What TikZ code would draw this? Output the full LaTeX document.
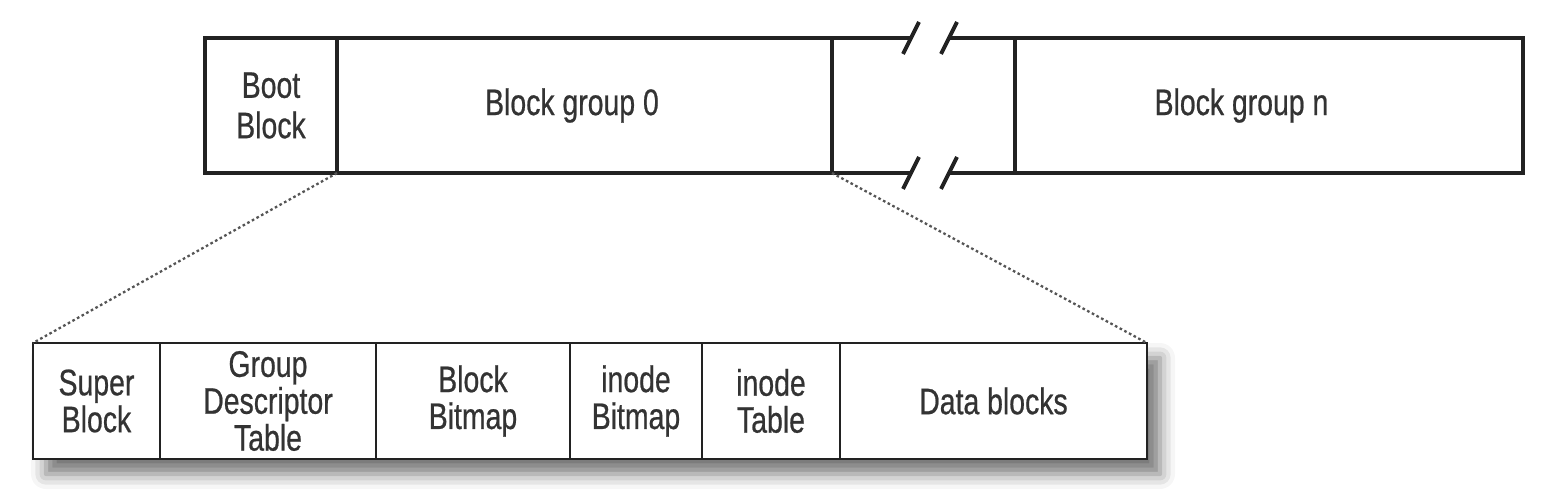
\documentclass[tikz,border=0pt]{standalone}
\usepackage{fontspec}
\setmainfont{Liberation Sans}[FakeStretch=0.77, FakeBold=0.6]
\usepackage{tikz}
\usetikzlibrary{positioning, calc, fit, backgrounds, shadows.blur}
\definecolor{inkgray}{HTML}{222222}
\definecolor{textgray}{HTML}{333333}
\definecolor{dotgray}{HTML}{555555}

\begin{document}
\begin{tikzpicture}[
    cell/.style={rectangle, draw=inkgray, line width=2.2pt, outer sep=0pt, inner sep=0pt, minimum height=2.7cm, align=center, text=textgray, font=\fontsize{21}{23}\selectfont},
    sub/.style={cell, line width=1.6pt, minimum height=2.32cm, font=\fontsize{21}{21}\selectfont},
    zoomline/.style={dotgray, line width=1.3pt, dash pattern=on 1.5pt off 1.5pt},
    brk/.style={inkgray, line width=2.2pt},
    node distance=0cm
]
\useasboundingbox (0,0) rectangle (31.28,-9.96);
\node[cell, minimum width=2.64cm, anchor=north west] (boot) at (4.10,-0.76) {Boot\\Block};
\node[cell, minimum width=9.90cm, right=of boot] (grp0) {Block group 0\hspace*{0.5cm}};
\node[cell, draw=none, minimum width=3.66cm, right=of grp0] (gap) {};
\node[cell, minimum width=10.16cm, right=of gap] (grpn) {Block group n\hspace*{1.1cm}};

\foreach \a/\b in {north west/north east, south west/south east} {
    \draw[brk] (gap.\a) -- ++(1.58,0) ++(-0.16,-0.32) -- ++(0.32,0.64);
    \draw[brk] (gap.\b) -- ++(-1.32,0) ++(-0.16,-0.32) -- ++(0.32,0.64);
}

\node[sub, minimum width=2.54cm, anchor=north west] (super) at (0.66,-6.86) {Super\\Block};
\node[sub, minimum width=4.32cm, right=of super] (gdt) {Group\\Descriptor\\Table};
\node[sub, minimum width=3.88cm, right=of gdt] (bbm) {Block\\Bitmap};
\node[sub, minimum width=2.64cm, right=of bbm] (ibm) {inode\\Bitmap};
\node[sub, minimum width=2.76cm, right=of ibm] (itab) {inode\\Table};
\node[sub, minimum width=6.14cm, right=of itab] (data) {Data blocks};

\begin{scope}[on background layer]
\node[fit=(super)(data), inner sep=0pt, fill=white, blur shadow={shadow xshift=0.26cm, shadow yshift=-0.3cm, shadow blur radius=0.3cm, shadow opacity=55}] (shade) {};
\end{scope}

\draw[zoomline] (grp0.south west) -- (super.north west);
\draw[zoomline] (grp0.south east) -- (data.north east);
\end{tikzpicture}
\end{document}
